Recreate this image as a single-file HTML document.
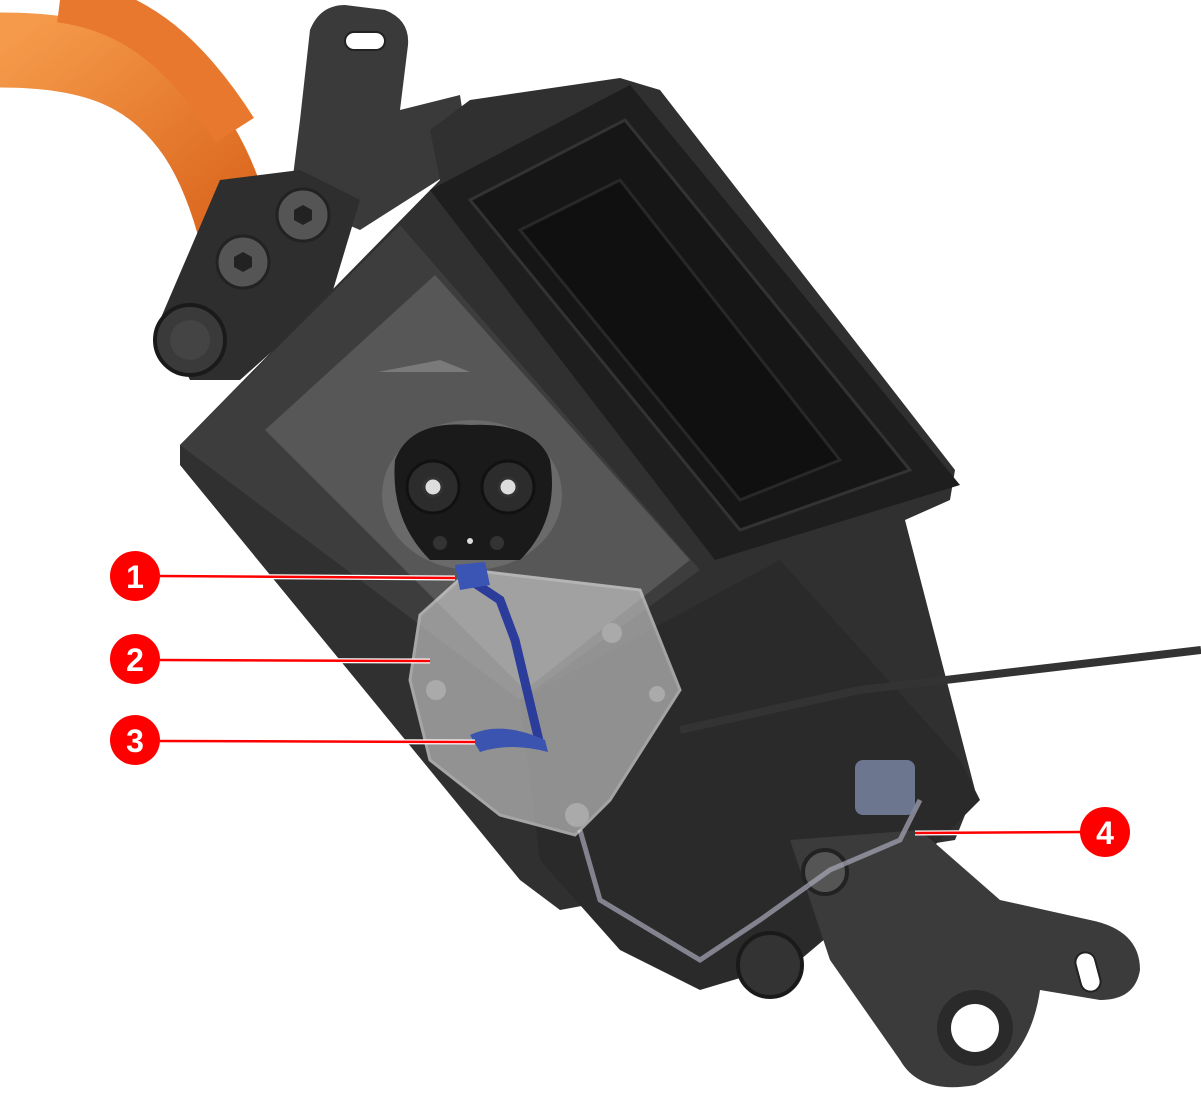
<!DOCTYPE html>
<html><head><meta charset="utf-8"><style>html,body{margin:0;padding:0;background:#fff}svg{display:block}</style></head>
<body>
<svg width="1201" height="1100" viewBox="0 0 1201 1100" xmlns="http://www.w3.org/2000/svg">
<defs>
<linearGradient id="or" x1="0" y1="0" x2="1" y2="1"><stop offset="0" stop-color="#f59a4a"/><stop offset="1" stop-color="#d9631a"/></linearGradient>
</defs>
<!-- orange cables -->
<path d="M0,50 C90,50 150,70 195,135 C215,165 228,200 238,240" fill="none" stroke="url(#or)" stroke-width="75"/>
<path d="M60,0 C140,10 190,60 235,130" fill="none" stroke="#e8782e" stroke-width="45"/>
<!-- top bracket -->
<path d="M300,120 L310,30 Q320,5 345,5 L385,10 Q410,20 408,45 L400,110 L460,95 L470,160 L360,230 L290,200 Z" fill="#3a3a3a"/>
<rect x="345" y="32" width="40" height="18" rx="9" fill="#fff" stroke="#222" stroke-width="2"/>
<!-- left bolt area -->
<path d="M160,320 L220,180 L300,170 L360,200 L330,300 L240,380 L190,380 Z" fill="#2e2e2e"/>
<circle cx="190" cy="340" r="35" fill="#3a3a3a" stroke="#1a1a1a" stroke-width="4"/>
<circle cx="190" cy="340" r="20" fill="#444"/>
<circle cx="243" cy="262" r="26" fill="#555" stroke="#222" stroke-width="3"/>
<circle cx="303" cy="215" r="26" fill="#555" stroke="#222" stroke-width="3"/>
<polygon points="243,252 252,257 252,267 243,272 234,267 234,257" fill="#222"/>
<polygon points="303,205 312,210 312,220 303,225 294,220 294,210" fill="#222"/>
<!-- main housing -->
<path d="M180,445 L440,180 L430,130 L470,100 L620,78 L660,90 L955,470 L950,500 L905,520 L975,790 L955,840 L830,860 L560,910 L520,880 L180,465 Z" fill="#303030"/>
<!-- lower body -->
<path d="M520,700 L780,560 L960,760 L980,800 L930,850 L800,960 L700,990 L620,950 L540,860 Z" fill="#2a2a2a"/>
<!-- bottom bracket -->
<path d="M790,840 L920,830 L1000,900 L1090,920 Q1140,930 1140,970 Q1135,1000 1100,1000 L1040,990 Q1030,1060 975,1085 Q920,1095 900,1060 L830,960 Z" fill="#3b3b3b"/>
<circle cx="975" cy="1028" r="38" fill="#2a2a2a"/>
<circle cx="975" cy="1028" r="24" fill="#fff"/>
<rect x="1078" y="952" width="20" height="40" rx="10" fill="#fff" stroke="#222" stroke-width="2" transform="rotate(-15 1088 972)"/>
<circle cx="825" cy="872" r="22" fill="#555" stroke="#222" stroke-width="4"/>
<circle cx="770" cy="965" r="32" fill="#333" stroke="#1a1a1a" stroke-width="4"/>
<!-- lid -->
<path d="M430,190 L630,85 L960,485 L715,560 Z" fill="#1e1e1e"/>
<path d="M470,200 L625,120 L910,470 L740,530 Z" fill="#161616" stroke="#333" stroke-width="3"/>
<path d="M520,230 L620,180 L840,460 L740,500 Z" fill="#101010" stroke="#282828" stroke-width="3"/>
<!-- face plate -->
<path d="M180,445 L400,225 L700,570 L520,700 Z" fill="#3d3d3d"/>
<path d="M265,430 L435,275 L690,560 L525,690 Z" fill="#575757"/>
<polygon points="378,372 440,360 470,372" fill="#7a7a7a"/>
<!-- inlet -->
<ellipse cx="472" cy="495" rx="90" ry="75" fill="#6a6a6a"/>
<path d="M395,460 Q410,420 470,425 Q535,422 550,460 Q560,520 520,560 L430,560 Q390,520 395,460 Z" fill="#1a1a1a"/>
<circle cx="433" cy="487" r="26" fill="#2c2c2c" stroke="#111" stroke-width="3"/>
<circle cx="508" cy="487" r="26" fill="#2c2c2c" stroke="#111" stroke-width="3"/>
<circle cx="433" cy="487" r="9" fill="#ddd" stroke="#333" stroke-width="3"/>
<circle cx="508" cy="487" r="9" fill="#ddd" stroke="#333" stroke-width="3"/>
<circle cx="440" cy="543" r="7" fill="#333"/><circle cx="497" cy="543" r="7" fill="#333"/><circle cx="470" cy="541" r="3" fill="#ddd"/>
<!-- cable right -->
<path d="M680,730 L860,690 L1201,650" fill="none" stroke="#333" stroke-width="8"/>
<path d="M580,830 L600,900 L700,960 L760,920 L830,870 L900,840 L920,800" fill="none" stroke="#aab" stroke-width="5" opacity="0.7"/>
<rect x="855" y="760" width="60" height="55" rx="8" fill="#7d8aa8" opacity="0.8"/>
<!-- translucent cover -->
<path d="M420,615 L470,570 L640,590 L680,690 L610,800 L575,835 L500,815 L430,760 L410,680 Z" fill="#cfcfcf" opacity="0.62" stroke="#eee" stroke-width="3"/>
<circle cx="436" cy="690" r="10" fill="#aaa"/><circle cx="612" cy="633" r="10" fill="#aaa"/><circle cx="577" cy="815" r="12" fill="#aaa"/><circle cx="657" cy="694" r="8" fill="#aaa"/>
<!-- blue parts -->
<path d="M470,580 L500,600 L515,640 L540,745" fill="none" stroke="#2b3c9a" stroke-width="9"/>
<path d="M455,565 L485,562 L490,585 L460,590 Z" fill="#3b55b5"/>
<path d="M470,735 Q500,720 545,740 L548,752 Q510,742 480,752 Z" fill="#3a54b0"/>
<!-- callouts -->
<g stroke="#fff" stroke-width="5"><line x1="160" y1="576" x2="455" y2="578"/><line x1="160" y1="660" x2="430" y2="661"/><line x1="160" y1="741" x2="475" y2="742"/><line x1="915" y1="833" x2="1085" y2="832"/></g>
<g stroke="#f00" stroke-width="2.5"><line x1="160" y1="576" x2="455" y2="578"/><line x1="160" y1="660" x2="430" y2="661"/><line x1="160" y1="741" x2="475" y2="742"/><line x1="915" y1="833" x2="1085" y2="832"/></g>
<g fill="#f00"><circle cx="135" cy="576" r="25"/><circle cx="135" cy="659" r="25"/><circle cx="135" cy="740" r="25"/><circle cx="1105" cy="832" r="25"/></g>
<g fill="#fff" font-family="Liberation Sans, sans-serif" font-weight="bold" font-size="32" text-anchor="middle"><text x="135" y="588">1</text><text x="135" y="671">2</text><text x="135" y="752">3</text><text x="1105" y="844">4</text></g>
</svg>
</body></html>
